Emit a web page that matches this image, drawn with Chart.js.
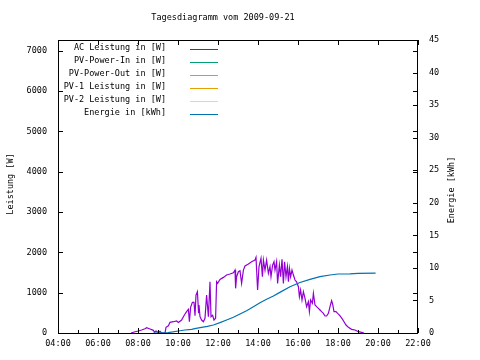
<!DOCTYPE html>
<html>
<head>
<meta charset="utf-8">
<script src="https://cdn.jsdelivr.net/npm/chart.js@4/dist/chart.umd.min.js"></script>
<style>
html,body{margin:0;padding:0;background:#fff;}
canvas{display:block;}
</style>
</head>
<body>
<canvas id="c" width="480" height="360"></canvas>
<script>
// ---- data (time in decimal hours) ----
const chartTitle = "Tagesdiagramm vom 2009-09-21";
const seriesNames = ["AC Leistung in [W]", "PV-Power-In in [W]", "PV-Power-Out in [W]", "PV-1 Leistung in [W]", "PV-2 Leistung in [W]", "Energie in [kWh]"];
const seriesColors = ["#9400D3", "#009E73", "#56B4E9", "#E69F00", "#F0E442", "#0072B2"];
const leftAxisTitle = "Leistung [W]";
const rightAxisTitle = "Energie [kWh]";
const xTickHours = [4, 6, 8, 10, 12, 14, 16, 18, 20, 22];
const xMinorHours = [5, 7, 9, 11, 13, 15, 17, 19, 21];
const leftTicks = [0, 1000, 2000, 3000, 4000, 5000, 6000, 7000];
const rightTicks = [0, 5, 10, 15, 20, 25, 30, 35, 40, 45];

const acTime = [7.65,7.85,8.02,8.18,8.35,8.43,8.6,8.77,8.82,8.9,9.02,9.1,9.18,9.35,9.4,9.52,9.6,9.77,9.93,10.02,10.18,10.27,10.35,10.43,10.52,10.57,10.63,10.72,10.8,10.85,10.9,10.97,11.03,11.05,11.1,11.18,11.27,11.35,11.43,11.52,11.6,11.65,11.73,11.8,11.88,11.93,11.98,12.1,12.27,12.43,12.6,12.77,12.85,12.88,12.93,13.02,13.1,13.18,13.27,13.35,13.52,13.68,13.85,13.9,13.98,14.05,14.15,14.22,14.27,14.35,14.43,14.52,14.6,14.65,14.73,14.8,14.85,14.93,14.98,15.07,15.13,15.2,15.27,15.33,15.4,15.47,15.52,15.57,15.63,15.7,15.77,15.85,15.93,16.02,16.07,16.13,16.2,16.27,16.35,16.43,16.52,16.57,16.63,16.72,16.77,16.85,16.93,17.02,17.1,17.18,17.27,17.35,17.43,17.52,17.6,17.68,17.73,17.8,17.9,17.98,18.07,18.13,18.23,18.3,18.4,18.52,18.68,18.85,19.02,19.18,19.3];
const acPower = [0,30,50,75,107,132,100,66,20,50,10,40,0,0,140,180,265,280,298,260,322,405,471,530,587,280,637,761,761,430,942,1024,488,694,405,322,280,364,942,405,1272,405,440,322,364,1272,1231,1331,1380,1438,1463,1496,1562,1108,1397,1521,1545,1231,1560,1662,1711,1769,1810,1877,1066,1645,1852,1397,1810,1560,1810,1480,1645,1397,1686,1769,1562,1769,1231,1686,1397,1828,1231,1769,1397,1645,1272,1604,1397,1562,1438,1314,1272,1149,900,1066,818,1024,860,653,777,529,818,736,984,694,653,612,570,529,488,422,422,488,653,802,720,529,529,488,446,405,339,280,198,140,91,74,33,17,0];

const energyTime = [8.77,9.5,10.1,10.35,10.68,10.9,11.18,11.47,11.77,12.1,12.43,12.77,13.1,13.43,13.77,14.1,14.43,14.77,15.07,15.6,16.1,16.6,17.1,17.6,18.0,18.6,19.0,19.88];
const energyKWh = [0,0.05,0.35,0.46,0.56,0.72,0.87,1.03,1.23,1.59,2.0,2.41,2.92,3.43,4.04,4.66,5.17,5.68,6.2,7.1,7.75,8.24,8.65,8.91,9.06,9.08,9.17,9.2];

const pvInTime = [], pvInPower = [];
const pvOutTime = [], pvOutPower = [];
const pv1Time = [], pv1Power = [];
const pv2Time = [], pv2Power = [];

// ---- build ----
const FONT = '"DejaVu Sans Mono", "Liberation Mono", monospace';
const FS = 8.5;
const pts = (xs, ys) => xs.map((x, i) => ({x: x, y: ys[i]}));
const pad2 = n => (n < 10 ? '0' : '') + n;

function mk(i, xs, ys, axis, order) {
  return {
    label: seriesNames[i], data: pts(xs, ys), yAxisID: axis,
    borderColor: seriesColors[i], backgroundColor: seriesColors[i],
    borderWidth: 1.2, pointRadius: 0, tension: 0, fill: false, order: order
  };
}

const decor = {
  id: 'decor',
  afterDraw(chart) {
    const {ctx, chartArea: a, scales} = chart;
    ctx.save();
    ctx.strokeStyle = '#000';
    ctx.lineWidth = 1;
    ctx.strokeRect(a.left + 0.5, a.top + 0.5, a.right - a.left - 1, a.bottom - a.top);
    ctx.beginPath();
    // x ticks
    scales.x.ticks.forEach(t => {
      const px = Math.round(scales.x.getPixelForValue(t.value)) + 0.5;
      const major = xTickHours.includes(t.value);
      ctx.moveTo(px, a.bottom); ctx.lineTo(px, a.bottom - (major ? 5 : 3));
      if (major) { ctx.moveTo(px, a.top); ctx.lineTo(px, a.top + 5); }
    });
    // left y ticks (mirrored right)
    scales.y.ticks.forEach(t => {
      const py = Math.round(scales.y.getPixelForValue(t.value)) + 0.5;
      ctx.moveTo(a.left, py); ctx.lineTo(a.left + 5, py);
      ctx.moveTo(a.right, py); ctx.lineTo(a.right - 5, py);
    });
    scales.y2.ticks.forEach(t => {
      const py = Math.round(scales.y2.getPixelForValue(t.value)) + 0.5;
      ctx.moveTo(a.right, py); ctx.lineTo(a.right - 5, py);
    });
    ctx.stroke();

    ctx.fillStyle = '#000';
    ctx.font = FS + 'px ' + FONT;
    // title
    ctx.textAlign = 'center';
    ctx.textBaseline = 'middle';
    ctx.fillText(chartTitle, 223, 18);
    // axis titles
    ctx.save();
    ctx.translate(11, 184);
    ctx.rotate(-Math.PI / 2);
    ctx.fillText(leftAxisTitle, 0, 0);
    ctx.restore();
    ctx.save();
    ctx.translate(452, 190);
    ctx.rotate(-Math.PI / 2);
    ctx.fillText(rightAxisTitle, 0, 0);
    ctx.restore();
    // legend
    ctx.textAlign = 'right';
    ctx.textBaseline = 'alphabetic';
    chart.data.datasets.forEach((ds, i) => {
      const yb = 50 + 13 * i;
      ctx.fillStyle = '#000';
      ctx.fillText(ds.label, 166, yb);
      ctx.strokeStyle = ds.borderColor;
      ctx.lineWidth = 1;
      ctx.beginPath();
      ctx.moveTo(190, yb - 0.5); ctx.lineTo(218, yb - 0.5);
      ctx.stroke();
    });
    ctx.restore();
  }
};

const tickFont = {family: FONT, size: FS};
new Chart(document.getElementById('c'), {
  type: 'line',
  data: {
    datasets: [
      mk(0, acTime, acPower, 'y', 2),
      mk(1, pvInTime, pvInPower, 'y', 3),
      mk(2, pvOutTime, pvOutPower, 'y', 4),
      mk(3, pv1Time, pv1Power, 'y', 5),
      mk(4, pv2Time, pv2Power, 'y', 6),
      mk(5, energyTime, energyKWh, 'y2', 0)
    ]
  },
  options: {
    responsive: false,
    animation: false,
    devicePixelRatio: 1,
    layout: {padding: {top: 40, left: 0, right: 0, bottom: 0}},
    plugins: {legend: {display: false}, title: {display: false}, tooltip: {enabled: false}},
    scales: {
      x: {
        type: 'linear', min: 4, max: 22,
        grid: {display: false, drawTicks: false}, border: {display: false},
        afterBuildTicks: s => { s.ticks = xTickHours.concat(xMinorHours).sort((p, q) => p - q).map(v => ({value: v})); },
        ticks: {
          autoSkip: false, maxRotation: 0,
          padding: 6, color: '#000', font: tickFont,
          callback: v => xTickHours.includes(v) ? pad2(v) + ':00' : ''
        },
        afterFit: s => { s.height = 27; }
      },
      y: {
        position: 'left', min: 0, max: 7270,
        grid: {display: false, drawTicks: false}, border: {display: false},
        afterBuildTicks: s => { s.ticks = leftTicks.map(v => ({value: v})); },
        ticks: {padding: 11, color: '#000', font: tickFont, callback: v => String(v)},
        afterFit: s => { s.width = 58; }
      },
      y2: {
        position: 'right', min: 0, max: 45,
        grid: {display: false, drawTicks: false}, border: {display: false},
        afterBuildTicks: s => { s.ticks = rightTicks.map(v => ({value: v})); },
        ticks: {padding: 11, color: '#000', font: tickFont, callback: v => String(v)},
        afterFit: s => { s.width = 62; }
      }
    }
  },
  plugins: [decor]
});
</script>
</body>
</html>
